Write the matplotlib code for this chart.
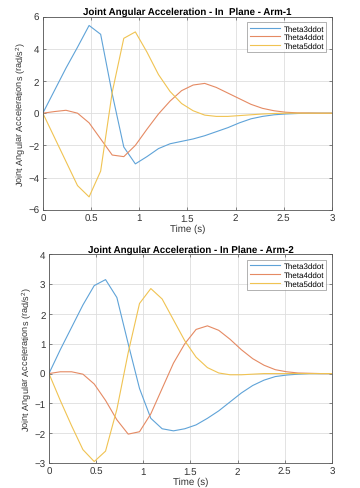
import matplotlib
matplotlib.use("Agg")
import matplotlib.pyplot as plt
import numpy as np

plt.rcParams['font.family'] = ['Liberation Sans', 'DejaVu Sans']
plt.rcParams['mathtext.fontset'] = 'custom'
plt.rcParams['mathtext.rm'] = 'Liberation Sans'
plt.rcParams['text.hinting'] = 'no_hinting'

# time samples (s)
t = np.arange(26) * 0.12

# Arm-1 joint angular accelerations (rad/s^2)
arm1_th3 = [0, 1.4, 2.8, 4.1, 5.45, 4.9, 1.2, -2.1, -3.15, -2.7, -2.2, -1.9, -1.75,
            -1.6, -1.4, -1.15, -0.9, -0.6, -0.35, -0.2, -0.1, -0.05, -0.02, 0, 0, 0]
arm1_th4 = [0, 0.1, 0.18, 0.0, -0.6, -1.6, -2.6, -2.7, -2.0, -1.0, -0.05, 0.75, 1.4,
            1.75, 1.85, 1.6, 1.25, 0.9, 0.55, 0.3, 0.15, 0.06, 0.02, 0.01, 0, 0]
arm1_th5 = [0, -1.5, -3.0, -4.5, -5.2, -3.6, 1.3, 4.65, 5.05, 3.8, 2.4, 1.35, 0.6,
            0.15, -0.12, -0.2, -0.2, -0.15, -0.1, -0.05, -0.02, 0, 0, 0, 0, 0]

# Arm-2 joint angular accelerations (rad/s^2)
arm2_th3 = [0, 0.8, 1.55, 2.3, 2.95, 3.15, 2.55, 1.0, -0.5, -1.5, -1.85, -1.92, -1.85,
            -1.72, -1.5, -1.25, -0.95, -0.65, -0.4, -0.22, -0.1, -0.05, -0.02, 0, 0, 0]
arm2_th4 = [0, 0.06, 0.06, -0.02, -0.35, -0.9, -1.55, -2.03, -1.95, -1.35, -0.5, 0.35, 1.0,
            1.48, 1.6, 1.45, 1.15, 0.8, 0.5, 0.28, 0.13, 0.06, 0.02, 0.01, 0, 0]
arm2_th5 = [0, -0.9, -1.75, -2.55, -2.95, -2.6, -1.2, 0.7, 2.35, 2.85, 2.5, 1.8, 1.1,
            0.55, 0.2, 0.02, -0.04, -0.04, -0.02, 0, 0, 0, 0, 0, 0, 0]

labels = ["Theta3ddot", "Theta4ddot", "Theta5ddot"]
colors = ["#5fa3d8", "#e58a63", "#f0c352"]

fig = plt.figure(figsize=(3.6, 4.89), dpi=100)
ax1 = fig.add_axes([0.119, 0.569, 0.803, 0.395])
ax2 = fig.add_axes([0.136, 0.051, 0.786, 0.427])

panels = [
    (ax1, [arm1_th3, arm1_th4, arm1_th5], "Joint Angular Acceleration - In  Plane - Arm-1", (-6, 6), 2),
    (ax2, [arm2_th3, arm2_th4, arm2_th5], "Joint Angular Acceleration - In Plane - Arm-2", (-3, 4), 1),
]

for ax, series, title, ylim, ystep in panels:
    for y, lab, c in zip(series, labels, colors):
        ax.plot(t, y, color=c, lw=0.8, label=lab)
    ax.set_xlim(0, 3)
    ax.set_ylim(*ylim)
    ax.set_xticks(np.arange(0, 3.01, 0.5))
    ax.set_xticklabels(["0", "0.5", "1", "1.5", "2", "2.5", "3"])
    ax.set_yticks(np.arange(ylim[0], ylim[1] + 0.01, ystep))
    ax.grid(True, color="#dedede", lw=0.6)
    ax.tick_params(labelsize=7, colors="#333333", length=2, width=0.4,
                   direction="in", top=True, right=True, pad=2.5)
    for s in ax.spines.values():
        s.set_color("#555555")
        s.set_linewidth(0.6)
    ax.set_title(title, fontsize=7, fontweight="bold", pad=2)
    ax.set_xlabel("Time (s)", fontsize=7, color="#333333", labelpad=0.5)
    ax.set_ylabel("Joint Angular Accelerations (rad/s$^2$)", fontsize=6.6,
                  color="#333333", labelpad=1)
    leg = ax.legend(loc="upper right", fontsize=5.8, frameon=True, fancybox=False,
                    handlelength=3.8, borderpad=0.3, labelspacing=0.15,
                    handletextpad=0.4, borderaxespad=0.7)
    leg.get_frame().set_edgecolor("#777777")
    leg.get_frame().set_linewidth(0.5)

fig.savefig("out.png", dpi=100)
